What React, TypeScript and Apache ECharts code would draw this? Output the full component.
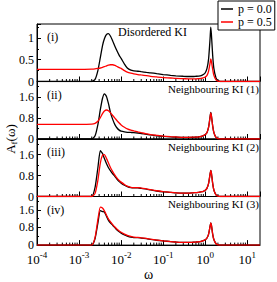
import React, { useEffect, useRef } from 'react';
import * as echarts from 'echarts';

// Frequency grid (ω) shared by all curves
const omega = [1e-4, 1e-3, 2.0e-3, 2.4e-3, 2.8e-3, 3.2e-3, 3.6e-3, 4.0e-3, 4.5e-3, 5.0e-3, 5.6e-3, 6.3e-3, 7.1e-3, 8.0e-3, 9.0e-3, 1.0e-2, 1.2e-2, 1.4e-2, 1.7e-2, 2.0e-2, 2.5e-2, 3.0e-2, 4.0e-2, 5.0e-2, 7.0e-2, 0.1, 0.15, 0.2, 0.3, 0.4, 0.5, 0.6, 0.7, 0.8, 0.9, 1.0, 1.1, 1.2, 1.3, 1.35, 1.4, 1.5, 1.6, 1.8, 2.0, 2.3, 3.0, 20];

const seriesNames = ['p = 0.0', 'p = 0.5'];
const seriesColors = ['#000000', '#ff0000'];
const panelTags = ['(i)', '(ii)', '(iii)', '(iv)'];
const panelTitles = ['Disordered KI', 'Neighbouring KI (1)', 'Neighbouring KI (2)', 'Neighbouring KI (3)'];

// Panel (i) Disordered KI
const disorderedP00 = [0, 0, 0, 0.05, 0.25, 0.55, 0.82, 0.98, 1.08, 1.1, 1.04, 0.93, 0.81, 0.7, 0.6, 0.53, 0.4, 0.31, 0.26, 0.245, 0.235, 0.225, 0.21, 0.2, 0.18, 0.16, 0.14, 0.13, 0.12, 0.115, 0.115, 0.12, 0.125, 0.135, 0.16, 0.2, 0.3, 0.52, 0.98, 1.25, 1.08, 0.6, 0.3, 0.08, 0.02, 0, 0, 0];
const disorderedP05 = [0.28, 0.28, 0.285, 0.29, 0.3, 0.31, 0.325, 0.34, 0.36, 0.375, 0.385, 0.385, 0.37, 0.345, 0.32, 0.3, 0.25, 0.215, 0.19, 0.175, 0.16, 0.15, 0.135, 0.12, 0.105, 0.09, 0.08, 0.07, 0.065, 0.06, 0.06, 0.06, 0.065, 0.07, 0.085, 0.1, 0.14, 0.24, 0.42, 0.52, 0.46, 0.28, 0.14, 0.04, 0.01, 0, 0, 0];
// Panel (ii) Neighbouring KI (1)
const neigh1P00 = [0, 0, 0, 0.12, 0.55, 1.12, 1.55, 1.73, 1.62, 1.35, 1.0, 0.75, 0.55, 0.42, 0.34, 0.3, 0.27, 0.255, 0.25, 0.245, 0.23, 0.21, 0.18, 0.155, 0.125, 0.1, 0.08, 0.07, 0.06, 0.06, 0.065, 0.07, 0.08, 0.1, 0.13, 0.17, 0.25, 0.45, 0.85, 1.02, 0.9, 0.5, 0.25, 0.06, 0.015, 0, 0, 0];
const neigh1P05 = [0.56, 0.56, 0.57, 0.6, 0.68, 0.82, 0.97, 1.07, 1.11, 1.08, 1.0, 0.9, 0.8, 0.7, 0.61, 0.54, 0.45, 0.39, 0.34, 0.31, 0.27, 0.24, 0.2, 0.17, 0.14, 0.11, 0.09, 0.08, 0.065, 0.065, 0.07, 0.075, 0.085, 0.1, 0.13, 0.17, 0.25, 0.45, 0.83, 1.0, 0.88, 0.5, 0.25, 0.06, 0.015, 0, 0, 0];
// Panel (iii) Neighbouring KI (2)
const neigh2P00 = [0, 0, 0, 0.35, 1.1, 1.75, 1.65, 1.45, 1.25, 1.1, 0.98, 0.87, 0.77, 0.66, 0.57, 0.51, 0.43, 0.38, 0.34, 0.33, 0.33, 0.31, 0.28, 0.25, 0.21, 0.18, 0.16, 0.14, 0.13, 0.13, 0.14, 0.15, 0.16, 0.18, 0.2, 0.24, 0.32, 0.5, 0.85, 1.0, 0.9, 0.5, 0.25, 0.06, 0.015, 0, 0, 0];
const neigh2P05 = [0, 0, 0, 0.12, 0.62, 1.28, 1.58, 1.6, 1.45, 1.28, 1.1, 0.95, 0.82, 0.7, 0.61, 0.55, 0.46, 0.4, 0.35, 0.34, 0.34, 0.32, 0.29, 0.26, 0.22, 0.19, 0.16, 0.14, 0.13, 0.13, 0.14, 0.15, 0.16, 0.18, 0.2, 0.24, 0.32, 0.5, 0.85, 1.0, 0.9, 0.5, 0.25, 0.06, 0.015, 0, 0, 0];
// Panel (iv) Neighbouring KI (3)
const neigh3P00 = [0, 0, 0, 0.3, 1.0, 1.56, 1.52, 1.5, 1.3, 1.12, 1.0, 0.9, 0.79, 0.68, 0.6, 0.54, 0.46, 0.41, 0.36, 0.34, 0.34, 0.32, 0.29, 0.26, 0.22, 0.19, 0.16, 0.14, 0.12, 0.12, 0.13, 0.14, 0.15, 0.17, 0.2, 0.24, 0.32, 0.5, 0.85, 1.0, 0.9, 0.5, 0.25, 0.06, 0.015, 0, 0, 0];
const neigh3P05 = [0, 0, 0, 0.35, 1.15, 1.72, 1.68, 1.55, 1.35, 1.18, 1.05, 0.93, 0.82, 0.72, 0.64, 0.58, 0.5, 0.44, 0.39, 0.36, 0.35, 0.33, 0.3, 0.27, 0.23, 0.19, 0.16, 0.14, 0.12, 0.12, 0.13, 0.14, 0.15, 0.17, 0.2, 0.24, 0.32, 0.5, 0.85, 1.0, 0.9, 0.5, 0.25, 0.06, 0.015, 0, 0, 0];

const panelValues = [
  [disorderedP00, disorderedP05],
  [neigh1P00, neigh1P05],
  [neigh2P00, neigh2P05],
  [neigh3P00, neigh3P05],
];

const yMaxes = [1.32, 2.2, 2.2, 2.2];
const yIntervals = [0.5, 0.8, 0.8, 0.8];
const xMin = 1e-4;
const xMax = 20;
const minorDecades = [1e-4, 1e-3, 1e-2, 1e-1, 1e0];
const minorMantissas = [2, 3, 4, 5, 6, 7, 8, 9];

const FONT = '"Liberation Serif", "DejaVu Serif", "Times New Roman", serif';

export default function App() {
  const ref = useRef<HTMLDivElement>(null);
  useEffect(() => {
    if (!ref.current) return;
    const chart = echarts.init(ref.current, null, { renderer: 'svg' });

    const gridLeft = 37;
    const gridRight = 17;
    const gridTop = 24;
    const panelH = 57.5;

    const minorTicks: number[][] = [];
    minorDecades.forEach((d) => minorMantissas.forEach((m) => minorTicks.push([m * d, 0])));

    const grids: any[] = [];
    const xAxes: any[] = [];
    const yAxes: any[] = [];
    const series: any[] = [];
    const graphics: any[] = [];

    panelValues.forEach((pair, i) => {
      const top = gridTop + i * panelH;
      grids.push({
        left: gridLeft,
        right: gridRight,
        top,
        height: panelH,
        show: true,
        borderColor: '#000',
        borderWidth: 1,
        backgroundColor: 'transparent',
      });
      xAxes.push({
        type: 'log',
        logBase: 10,
        gridIndex: i,
        min: xMin,
        max: xMax,
        axisLine: { show: true, lineStyle: { color: '#000', width: 1 } },
        axisTick: { show: true, inside: true, length: 5, lineStyle: { color: '#000' } },
        splitLine: { show: false },
        axisLabel: {
          show: i === 3,
          showMaxLabel: false,
          margin: 7,
          color: '#000',
          fontFamily: FONT,
          formatter: (v: number) => `{b|10}{s|${Math.round(Math.log10(v))}}`,
          rich: {
            b: { fontFamily: FONT, fontSize: 13, color: '#000', lineHeight: 14, verticalAlign: 'bottom' },
            s: { fontFamily: FONT, fontSize: 9, color: '#000', lineHeight: 9, padding: [0, 0, 7, 0], verticalAlign: 'bottom' },
          },
        },
        name: i === 3 ? 'ω' : '',
        nameLocation: 'middle',
        nameGap: 21,
        nameTextStyle: { fontFamily: FONT, fontSize: 14, color: '#000' },
      });
      yAxes.push({
        type: 'value',
        gridIndex: i,
        min: 0,
        max: yMaxes[i],
        interval: yIntervals[i],
        axisLine: { show: true, lineStyle: { color: '#000', width: 1 } },
        axisTick: { show: true, inside: true, length: 4, lineStyle: { color: '#000' } },
        minorTick: { show: true, splitNumber: 2, length: 2, lineStyle: { color: '#000' } },
        splitLine: { show: false },
        axisLabel: { showMaxLabel: false, margin: 3, color: '#000', fontFamily: FONT, fontSize: 12 },
      });
      pair.forEach((vals, k) => {
        series.push({
          type: 'line',
          name: seriesNames[k],
          xAxisIndex: i,
          yAxisIndex: i,
          data: omega.map((w, j) => [w, vals[j]]),
          showSymbol: false,
          symbol: 'none',
          smooth: 0.2,
          lineStyle: { color: seriesColors[k], width: 1.3 },
          itemStyle: { color: seriesColors[k] },
          z: 3 + k,
        });
      });
      series.push({
        type: 'custom',
        xAxisIndex: i,
        yAxisIndex: i,
        data: minorTicks,
        silent: true,
        z: 2,
        renderItem: (params: any, api: any) => {
          const p = api.coord([api.value(0), 0]);
          return {
            type: 'line',
            shape: { x1: p[0], y1: p[1], x2: p[0], y2: p[1] - 2.5 },
            style: { stroke: '#000', lineWidth: 1 },
          };
        },
      });
      graphics.push({
        type: 'text',
        x: 47,
        y: top + 13,
        style: { text: panelTags[i], fill: '#000', font: `12px ${FONT}`, align: 'left', verticalAlign: 'middle' },
      });
      graphics.push(
        i === 0
          ? {
              type: 'text',
              x: 118,
              y: top + 8,
              style: { text: panelTitles[i], fill: '#000', font: `12px ${FONT}`, align: 'left', verticalAlign: 'middle' },
            }
          : {
              type: 'text',
              x: 259,
              y: top + 7.5,
              style: { text: panelTitles[i], fill: '#000', font: `11px ${FONT}`, align: 'right', verticalAlign: 'middle' },
            }
      );
    });

    graphics.push({
      type: 'text',
      x: 10,
      y: 139,
      rotation: Math.PI / 2,
      style: {
        text: '{a|A}{s|f}{a|(ω)}',
        align: 'center',
        verticalAlign: 'middle',
        fill: '#000',
        rich: {
          a: { fontFamily: FONT, fontSize: 13, lineHeight: 14, verticalAlign: 'middle', fill: '#000' },
          s: { fontFamily: FONT, fontSize: 9, lineHeight: 9, padding: [8, 0, 0, 0], verticalAlign: 'middle', fill: '#000' },
        },
      },
    });

    chart.setOption({
      animation: false,
      backgroundColor: '#fff',
      textStyle: { fontFamily: FONT },
      grid: grids,
      xAxis: xAxes,
      yAxis: yAxes,
      series,
      graphic: graphics,
      legend: {
        data: seriesNames.map((n) => ({ name: n, icon: 'rect' })),
        orient: 'vertical',
        left: 218,
        top: 1,
        backgroundColor: '#fff',
        borderColor: '#000',
        borderWidth: 1,
        padding: [2, 3, 2, 3],
        itemGap: 1,
        itemWidth: 12,
        itemHeight: 1.5,
        textStyle: { fontFamily: FONT, fontSize: 12, color: '#000', lineHeight: 12 },
        z: 10,
      },
    });

    return () => chart.dispose();
  }, []);

  return <div ref={ref} style={{ position: 'fixed', left: 0, top: 0, width: 277, height: 282 }} />;
}
